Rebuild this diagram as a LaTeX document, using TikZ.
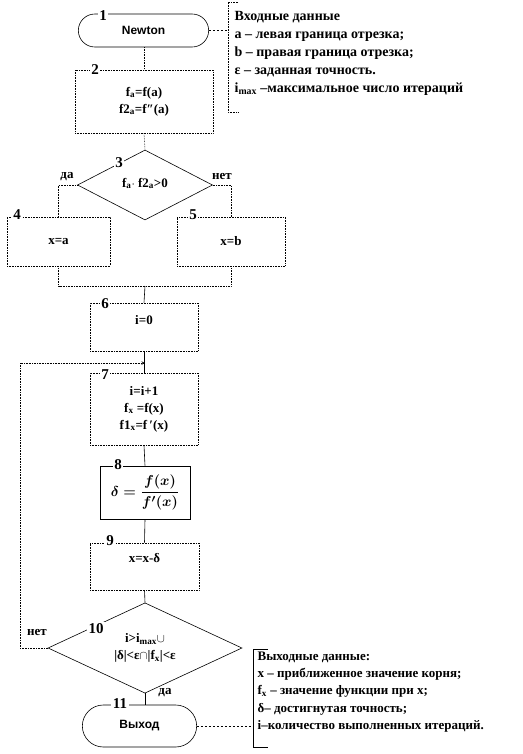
\documentclass[tikz,border=0pt]{standalone}
\usepackage{fontspec}
\setmainfont{Liberation Serif}
\newfontfamily\arialf{Liberation Sans}
\usetikzlibrary{shapes.geometric,shapes.misc,calc}
\tikzset{
  blok/.style={rectangle, draw, densely dotted, align=center, inner sep=1pt},
  romb/.style={diamond, draw, align=center, inner sep=0pt},
  term/.style={rounded rectangle, draw, font=\arialf\bfseries\fontsize{12}{14}\selectfont},
  nomer/.style={fill=white, inner sep=1.5pt, font=\fontsize{15}{15}\selectfont\bfseries},
  svyaz/.style={dash pattern=on 2pt off 2pt},
}
\begin{document}
\begin{tikzpicture}[x=1pt, y=-1pt, line width=0.6pt, >=stealth,
    every node/.append style={font=\fontsize{13}{17}\selectfont\bfseries}]
  \useasboundingbox (0,0) rectangle (522,754);
  % Блоки схемы
  \node[term, minimum width=137, minimum height=33] (T1) at (143.5,30.5) {Newton};
  \node[blok, minimum width=138, minimum height=63] (B2) at (144,101.5)
    {f\textsubscript{a}=f(a)\\f2\textsubscript{a}=f″(a)};
  \node[romb, minimum width=135, minimum height=70, text depth=5pt] (R3) at (145,185)
    {f\textsubscript{a}$\cdot$ f2\textsubscript{a}>0};
  \node[blok, minimum width=103, minimum height=49] (B4) at (58.5,241.5) {x=a};
  \node[blok, minimum width=108, minimum height=49] (B5) at (231,241.5) {x=b};
  \node[blok, minimum width=108, minimum height=48, text depth=14pt] (B6) at (144,327) {i=0};
  \node[blok, minimum width=108, minimum height=72] (B7) at (144,409)
    {i=i+1\\f\textsubscript{x} =f(x)\\f1\textsubscript{x}=f\,′(x)};
  \node[blok, solid, minimum width=90, minimum height=53,
    font=\fontsize{15}{17}\selectfont\boldmath] (B8) at (145,492.5)
    {$\displaystyle \delta=\frac{f(x)}{f'(x)}$};
  \node[blok, minimum width=109, minimum height=47, text depth=18pt] (B9) at (144.5,566.5) {x=x-δ};
  \node[romb, minimum width=194, minimum height=76] (R10) at (145,648)
    {i>i\textsubscript{max}$\cup$\\|δ|<ε$\cap$|f\textsubscript{x}|<ε};
  \node[term, minimum width=121, minimum height=42] (T11) at (139.5,726) {Выход};

  % Номера блоков
  \foreach \n/\p in {1/{103,16}, 2/{95,70}, 3/{119,163}, 4/{17,215}, 5/{193,215},
      6/{105,304}, 7/{105,375}, 8/{118,465}, 9/{110,541}, 10/{96,629}, 11/{120,704}}
    \node[nomer] (N\n) at (\p) {\n};

  % Связи
  \coordinate (M) at (145,286);
  \coordinate (P) at (20,363);
  \coordinate (L) at (145,363);
  \draw[densely dotted] (T1.south -| B2.north) -- (B2.north);
  \draw[densely dotted] (B2.south) -- (R3.north);
  \draw[densely dotted] (R3.west) -| (B4.north);
  \draw[densely dotted] (R3.east) -| (B5.north);
  \draw[densely dotted] (B4.south) |- (M) -| (B5.south);
  \draw (M) -- (B6.north);
  \draw (B6.south) -- (B7.north);
  \draw (B7.south) -- (B8.north);
  \draw (B8.south) -- (B9.north);
  \draw (B9.south) -- (R10.north);
  \draw (R10.south) -- (R10.south |- T11.north);
  \draw[densely dotted, ->] (R10.west) -| (P) -- (L);
  \node (da1) at (67,177) {да};
  \node (net1) at (222,177) {нет};
  \node (net2) at (37,632) {нет};
  \node (da2) at (165,693) {да};

  % Комментарии: входные и выходные данные
  \coordinate (VH) at (228,2);
  \coordinate (VK) at (228,112);
  \draw[densely dotted] ($(VH)+(10,0)$) -- (VH) -- (VK) -- ++(10,0);
  \draw[svyaz] (T1.east) -- (T1.east -| VH);
  \node[anchor=north west, align=left, font=\fontsize{14}{18}\selectfont\bfseries]
    (vhod) at (231,8)
    {Входные данные\\
     a – левая граница отрезка;\\
     b – правая граница отрезка;\\
     ε – заданная точность.\\
     i\textsubscript{max} –максимальное число итераций};
  \coordinate (WH) at (253,649);
  \coordinate (WK) at (253,747);
  \draw ($(WH)+(15,0)$) -- (WH) -- (WK) -- ++(15,0);
  \draw[svyaz] (T11.east) -- (T11.east -| WH);
  \node[anchor=north west, align=left, font=\fontsize{13}{17.3}\selectfont\bfseries]
    (vyhod) at (254,648)
    {Выходные данные:\\
     x – приближенное значение корня;\\
     f\textsubscript{x} – значение функции при x;\\
     δ– достигнутая точность;\\
     i–количество выполненных итераций.};
\end{tikzpicture}
\end{document}
